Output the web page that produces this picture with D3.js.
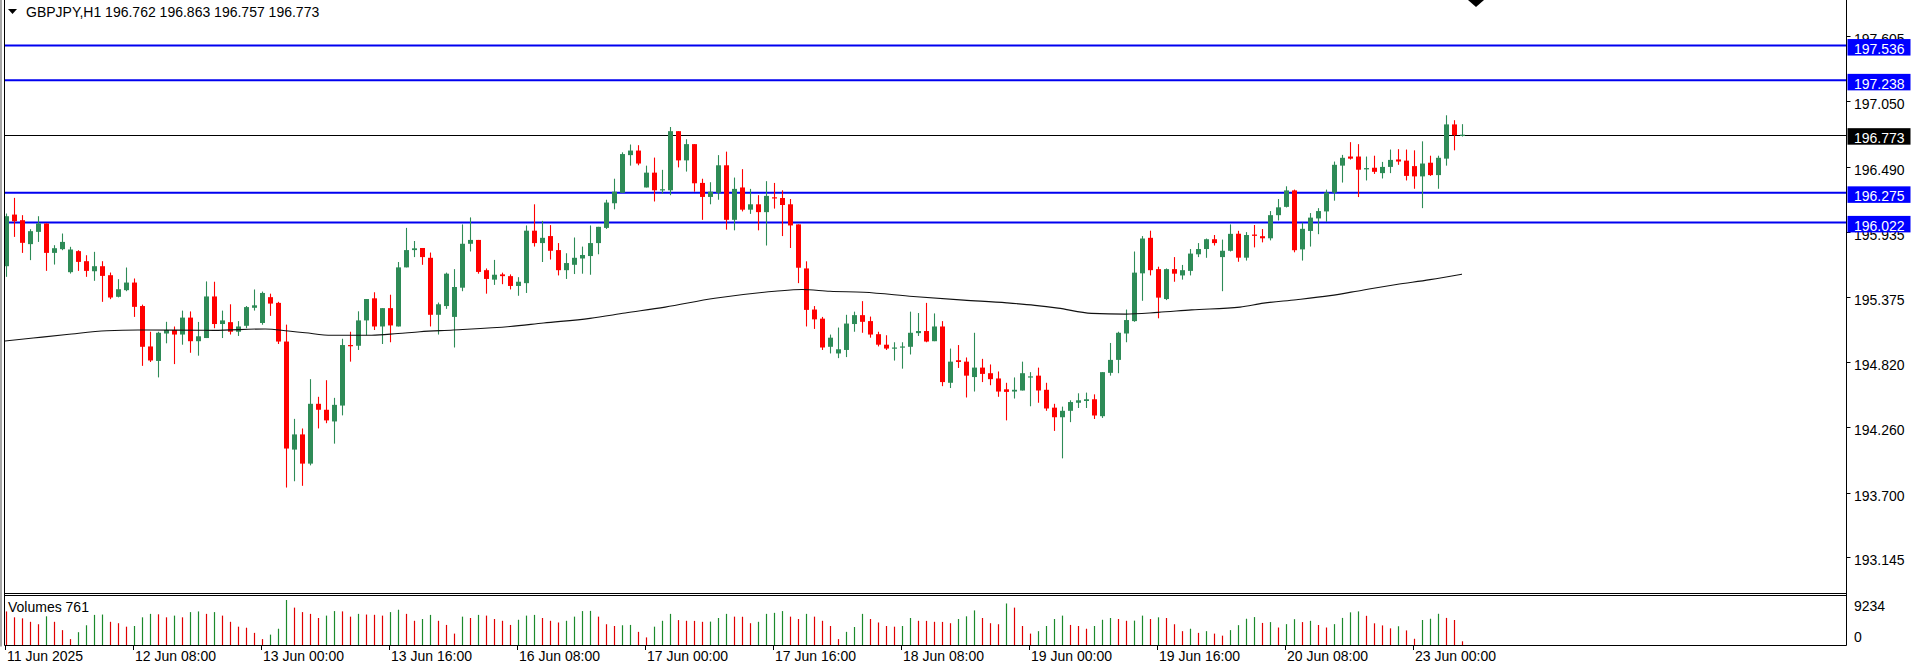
<!DOCTYPE html>
<html><head><meta charset="utf-8">
<script src="https://cdn.jsdelivr.net/npm/d3@7/dist/d3.min.js"></script>
<style>html,body{margin:0;padding:0;background:#fff;overflow:hidden}svg{display:block}text{font-family:"Liberation Sans",Arial,sans-serif;font-size:14px}</style>
</head><body><svg id="c" width="1920" height="664"></svg>
<script>
// ---- DATA ----
const symbol = "GBPJPY,H1";
const lastOHLC = ["196.762","196.863","196.757","196.773"];
const opens = [195.647,196.089,196.041,195.836,195.941,196.013,195.761,195.793,195.596,195.776,195.690,195.604,195.647,195.570,195.385,195.442,195.507,195.306,194.960,194.836,195.071,195.101,195.062,195.207,195.005,195.032,195.388,195.152,195.168,195.086,195.137,195.291,195.161,195.382,195.333,195.002,194.077,194.207,193.957,194.469,194.418,194.318,194.454,194.972,194.966,195.183,195.372,195.131,195.288,195.131,195.637,195.785,195.803,195.719,195.231,195.306,195.213,195.463,195.839,195.872,195.613,195.532,195.577,195.562,195.478,195.502,195.951,195.845,195.905,195.785,195.613,195.659,195.713,195.734,195.845,195.975,196.186,196.276,196.598,196.637,196.321,196.448,196.303,196.297,196.803,196.553,196.692,196.360,196.240,196.276,196.511,196.044,196.321,196.131,196.177,196.110,196.237,196.231,196.177,196.005,195.628,195.276,195.198,194.957,194.900,194.930,195.152,195.228,195.177,195.065,194.975,194.948,194.951,194.957,195.074,195.092,195.005,195.131,194.649,194.842,194.830,194.698,194.779,194.731,194.686,194.593,194.574,194.583,194.695,194.710,194.589,194.436,194.354,194.409,194.478,194.493,194.508,194.363,194.734,194.845,195.071,195.177,195.586,195.890,195.622,195.366,195.622,195.568,195.607,195.749,195.794,195.878,195.725,195.779,195.925,195.720,195.918,195.904,195.886,196.084,196.155,196.296,195.791,195.949,196.056,196.116,196.278,196.508,196.586,196.586,196.476,196.490,196.444,196.497,196.561,196.551,196.504,196.416,196.533,196.427,196.568,196.861,196.762];
const highs = [196.098,196.232,196.084,195.964,196.075,196.013,195.827,195.927,195.813,195.784,195.741,195.770,195.690,195.593,195.536,195.636,195.542,195.318,195.086,195.086,195.171,195.131,195.267,195.260,195.170,195.517,195.514,195.267,195.321,195.177,195.306,195.448,195.430,195.412,195.342,195.147,194.340,194.258,194.680,194.529,194.671,194.520,195.026,195.086,195.261,195.366,195.424,195.288,195.403,195.683,195.975,195.863,195.803,195.764,195.336,195.592,195.622,196.005,196.065,195.872,195.628,195.701,195.592,195.577,195.553,195.996,196.177,196.035,195.999,195.845,195.758,195.893,195.815,195.996,195.984,196.216,196.396,196.622,196.689,196.683,196.508,196.577,196.472,196.839,196.803,196.734,196.692,196.396,196.366,196.598,196.628,196.406,196.478,196.309,196.255,196.375,196.360,196.297,196.222,196.005,195.689,195.306,195.213,195.062,195.122,195.231,195.258,195.348,195.216,195.086,195.056,194.996,194.996,195.258,195.246,195.333,195.243,195.177,194.942,194.972,194.866,195.077,194.854,194.806,194.746,194.649,194.695,194.830,194.740,194.779,194.649,194.469,194.445,194.499,194.559,194.565,194.550,194.740,194.990,195.086,195.276,195.773,195.905,195.951,195.643,195.628,195.725,195.658,195.794,195.845,195.884,195.914,195.875,196.005,195.950,195.939,196.000,195.965,196.119,196.222,196.331,196.303,196.020,196.102,196.144,196.303,196.543,196.600,196.709,196.692,196.586,196.593,196.540,196.646,196.649,196.646,196.639,196.716,196.593,196.593,196.939,196.897,196.863];
const lows = [195.556,195.898,195.761,195.699,195.855,195.607,195.661,195.784,195.584,195.607,195.556,195.522,195.342,195.365,195.380,195.433,195.213,194.794,194.827,194.695,194.987,194.809,194.975,194.906,194.881,195.032,195.116,195.032,195.062,195.050,195.116,195.267,195.146,195.222,194.981,193.752,193.806,193.767,193.942,194.258,194.303,194.128,194.370,194.830,194.930,195.056,195.101,194.981,194.996,195.131,195.637,195.725,195.659,195.131,195.062,195.282,194.951,195.433,195.773,195.583,195.412,195.487,195.493,195.448,195.394,195.418,195.815,195.683,195.704,195.568,195.538,195.580,195.583,195.574,195.749,195.966,196.134,196.276,196.508,196.511,196.321,196.201,196.267,196.255,196.493,196.457,196.285,196.044,196.177,196.216,195.960,195.954,196.116,196.095,195.954,195.824,196.140,195.905,195.803,195.502,195.131,195.110,194.930,194.900,194.860,194.869,195.086,195.077,195.035,194.960,194.930,194.839,194.770,194.891,195.050,194.996,195.005,194.620,194.604,194.776,194.523,194.574,194.655,194.628,194.529,194.327,194.514,194.583,194.448,194.478,194.409,194.237,194.002,194.312,194.433,194.433,194.339,194.348,194.710,194.731,194.996,195.171,195.351,195.568,195.201,195.357,195.514,195.532,195.568,195.725,195.719,195.824,195.433,195.773,195.685,195.695,195.808,195.851,195.868,196.038,196.150,195.766,195.695,195.815,195.921,196.027,196.208,196.363,196.560,196.239,196.381,196.437,196.398,196.444,196.515,196.381,196.310,196.144,196.420,196.310,196.508,196.639,196.757];
const closes = [196.075,196.032,195.847,195.947,196.013,195.761,195.801,195.855,195.790,195.684,195.607,195.647,195.564,195.379,195.450,195.507,195.299,194.957,194.840,195.077,195.101,195.062,195.207,195.005,195.047,195.388,195.152,195.183,195.086,195.131,195.297,195.312,195.418,195.327,195.002,194.086,194.207,193.957,194.469,194.418,194.327,194.460,194.972,194.966,195.183,195.366,195.131,195.288,195.140,195.637,195.785,195.800,195.725,195.231,195.321,195.583,195.469,195.839,195.872,195.598,195.538,195.574,195.562,195.478,195.514,195.951,195.845,195.890,195.779,195.613,195.674,195.719,195.743,195.845,195.984,196.192,196.285,196.607,196.637,196.526,196.448,196.297,196.306,196.803,196.553,196.692,196.357,196.240,196.285,196.511,196.044,196.309,196.131,196.177,196.110,196.249,196.228,196.171,195.996,195.634,195.273,195.192,194.951,195.035,194.936,195.156,195.228,195.171,195.062,194.975,194.942,194.951,194.960,195.077,195.092,195.002,195.131,194.655,194.830,194.827,194.710,194.779,194.725,194.680,194.574,194.571,194.589,194.731,194.704,194.583,194.429,194.354,194.409,194.484,194.499,194.508,194.369,194.740,194.845,195.077,195.186,195.592,195.884,195.613,195.378,195.622,195.583,195.613,195.755,195.794,195.878,195.845,195.779,195.924,195.720,195.914,195.907,195.886,196.084,196.151,196.296,195.784,195.967,196.063,196.119,196.278,196.515,196.575,196.568,196.473,196.487,196.455,196.497,196.557,196.543,196.420,196.416,196.526,196.427,196.575,196.861,196.769,196.773];
const volumes = [6890,5680,5470,4760,4260,5890,4760,3050,1210,2630,4050,6180,6250,4760,4470,3760,3900,5680,6390,6300,5680,6030,5680,6750,6890,6390,6750,6030,4760,3760,3550,2490,1210,2130,3340,9234,7670,6750,6390,5540,6030,6960,6900,5820,6390,6250,6200,6030,6750,7240,6390,4970,5330,6180,4970,4120,2340,5820,5540,6180,6030,5330,4970,4120,5180,6030,6180,5540,4970,4620,4970,5820,6960,7000,5820,4260,3900,4050,4120,2700,1560,3760,4970,6390,5110,4970,4950,4760,4800,5540,6390,5820,5800,4470,4760,6390,6600,6960,5820,5330,6390,5820,4970,3900,1210,2700,3690,6390,5330,4620,3900,3760,3900,5540,4970,4950,4760,4740,4470,5330,5890,7100,5540,4470,4260,8520,7670,3900,2340,2840,3900,5330,6030,4120,3900,3340,3900,5180,5540,5330,4970,5000,6030,5330,5680,5540,4260,2840,3340,2490,2840,2340,1920,3050,4070,5390,5730,4530,4700,3590,4280,5300,4700,4960,4100,3590,4280,5560,6700,6900,5990,4450,4020,3420,3850,2990,1280,5130,5390,6410,5560,5130,761];
const maIdx = [-0.75,3.4,7.6,12.6,16.5,25.9,32.4,35.3,37.4,40.7,45.7,49,51.75,55.9,63,67.2,73,77.4,82.4,88.6,96.1,99.5,103,107.2,113.4,119.7,125.1,128.6,131.5,135.7,139.9,144,148.2,154.25,157.2,161.3,165.5,169.7,173.8,178,182];
const maVal = [195.002,195.032,195.062,195.095,195.101,195.098,195.110,195.092,195.077,195.056,195.056,195.071,195.086,195.101,195.131,195.161,195.200,195.246,195.297,195.372,195.432,195.448,195.432,195.424,195.388,195.357,195.333,195.312,195.288,195.243,195.237,195.252,195.273,195.297,195.331,195.360,195.395,195.444,195.490,195.532,195.579];
const blueLevels = [197.536,197.238,196.275,196.022];
const lastPrice = 196.773;
const priceTicks = [197.605,197.050,196.490,195.935,195.375,194.820,194.260,193.700,193.145];
const timeTickIdx = [0,16,32,48,64,80,96,112,128,144,160,176];
const timeLabels = ["11 Jun 2025","12 Jun 08:00","13 Jun 00:00","13 Jun 16:00","16 Jun 08:00","17 Jun 00:00","17 Jun 16:00","18 Jun 08:00","19 Jun 00:00","19 Jun 16:00","20 Jun 08:00","23 Jun 00:00"];
const volMax = 9234;
const volLabel = "Volumes 761";

// ---- LAYOUT ----
const W = 1920, H = 664;
const L = 4.5, R = 1846.5, mainBot = 593.5, volTop = 595.5, volBot = 645.5;
const UP = "#2e8b57", DN = "#ff0000", VUP = "#1c8a2c", VDN = "#e00000", BLUE = "#0000f0";
const svg = d3.select("#c");
svg.append("rect").attr("width", W).attr("height", H).attr("fill", "#fff");

const x = d3.scaleLinear().domain([0, 182]).range([6, 1462]);
const y = d3.scaleLinear().domain([192.875, 197.926]).range([590, 0]);
const yv = d3.scaleLinear().domain([0, volMax]).range([645, 600]);

const defs = svg.append("defs");
defs.append("clipPath").attr("id", "clipMain")
  .append("rect").attr("x", L + 0.5).attr("y", 0).attr("width", R - L - 1).attr("height", mainBot - 0.5);
defs.append("clipPath").attr("id", "clipVol")
  .append("rect").attr("x", L + 0.5).attr("y", volTop + 0.5).attr("width", R - L - 1).attr("height", volBot - volTop - 1);

const data = opens.map((o, i) => ({i, o, h: highs[i], l: lows[i], c: closes[i], v: volumes[i]}));

// horizontal level lines
const gLines = svg.append("g");
gLines.selectAll("line.bl").data(blueLevels).join("line")
  .attr("x1", L).attr("x2", R).attr("y1", d => y(d)).attr("y2", d => y(d))
  .attr("stroke", BLUE).attr("stroke-width", 2);
gLines.append("line").attr("x1", L).attr("x2", R)
  .attr("y1", Math.round(y(lastPrice)) + 0.5).attr("y2", Math.round(y(lastPrice)) + 0.5)
  .attr("stroke", "#000").attr("stroke-width", 1);

// candles
const gC = svg.append("g").attr("clip-path", "url(#clipMain)");
gC.selectAll("line.w").data(data).join("line")
  .attr("x1", d => x(d.i) + 0.5).attr("x2", d => x(d.i) + 0.5)
  .attr("y1", d => y(d.h)).attr("y2", d => y(d.l))
  .attr("stroke", d => d.c >= d.o ? UP : DN).attr("stroke-width", 1.1);
gC.selectAll("rect.b").data(data).join("rect")
  .attr("x", d => x(d.i) - 2).attr("width", 5)
  .attr("y", d => y(Math.max(d.o, d.c)))
  .attr("height", d => Math.max(1.2, Math.abs(y(d.o) - y(d.c))))
  .attr("fill", d => d.c >= d.o ? UP : DN);

// moving average
const maPts = maIdx.map((k, j) => [k, maVal[j]]);
gC.append("path").datum(maPts)
  .attr("d", d3.line().x(d => x(d[0])).y(d => y(d[1])).curve(d3.curveMonotoneX))
  .attr("fill", "none").attr("stroke", "#111").attr("stroke-width", 1.1);

// volumes
const gV = svg.append("g").attr("clip-path", "url(#clipVol)");
gV.selectAll("line.v").data(data).join("line")
  .attr("x1", d => x(d.i) + 0.5).attr("x2", d => x(d.i) + 0.5)
  .attr("y1", yv(0)).attr("y2", d => yv(d.v))
  .attr("stroke", (d, i) => (i > 0 && d.v > volumes[i - 1]) ? VUP : VDN)
  .attr("stroke-width", 1.2);

// frames
svg.append("rect").attr("x", 0).attr("y", 0).attr("width", 2).attr("height", volBot + 1).attr("fill", "#a8a8a8");
const fr = svg.append("g").attr("stroke", "#000").attr("stroke-width", 1).attr("fill", "none");
fr.append("line").attr("x1", L).attr("x2", L).attr("y1", 0).attr("y2", volBot);
fr.append("line").attr("x1", R).attr("x2", R).attr("y1", 0).attr("y2", volBot);
fr.append("line").attr("x1", L).attr("x2", R).attr("y1", mainBot).attr("y2", mainBot);
fr.append("line").attr("x1", L).attr("x2", R).attr("y1", volTop).attr("y2", volTop);
fr.append("line").attr("x1", L).attr("x2", R).attr("y1", volBot).attr("y2", volBot);

// price axis ticks and labels
const gA = svg.append("g");
gA.selectAll("line.t").data(priceTicks).join("line")
  .attr("x1", R).attr("x2", R + 4).attr("y1", d => Math.round(y(d)) - 0.5).attr("y2", d => Math.round(y(d)) - 0.5)
  .attr("stroke", "#000");
gA.selectAll("text.t").data(priceTicks).join("text")
  .attr("x", 1854).attr("y", d => y(d) + 7).attr("fill", "#000").text(d => d.toFixed(3));

// level boxes
const boxes = blueLevels.map(v => ({v, bg: "#0000ff"})).concat([{v: lastPrice, bg: "#000"}]);
const gB = svg.append("g");
gB.selectAll("rect").data(boxes).join("rect")
  .attr("x", R + 1).attr("width", 63).attr("y", d => y(d.v) - 6.5).attr("height", 16.5).attr("fill", d => d.bg);
gB.selectAll("text").data(boxes).join("text")
  .attr("x", 1854).attr("y", d => y(d.v) + 8.5).attr("fill", "#fff").text(d => d.v.toFixed(3));

// volume axis labels
svg.append("text").attr("x", 1854).attr("y", 611).text(String(volMax));
svg.append("text").attr("x", 1854).attr("y", 641.5).text("0");
svg.append("text").attr("x", 8).attr("y", 612).text(volLabel);

// time axis
const gT = svg.append("g");
gT.selectAll("line").data(timeTickIdx).join("line")
  .attr("x1", d => x(d) - 0.5).attr("x2", d => x(d) - 0.5).attr("y1", volBot).attr("y2", volBot + 4.5)
  .attr("stroke", "#000");
gT.selectAll("text").data(timeTickIdx).join("text")
  .attr("x", d => x(d) + 1).attr("y", 660.5).text((d, k) => timeLabels[k]);

// title
svg.append("path").attr("d", "M8,9 L17,9 L12.5,14 Z").attr("fill", "#000");
svg.append("text").attr("x", 26).attr("y", 16.5).text(symbol + "  " + lastOHLC.join(" "));

// shift marker at top
svg.append("path").attr("d", "M1468,0 L1484,0 L1476,7 Z").attr("fill", "#000");
</script></body></html>
